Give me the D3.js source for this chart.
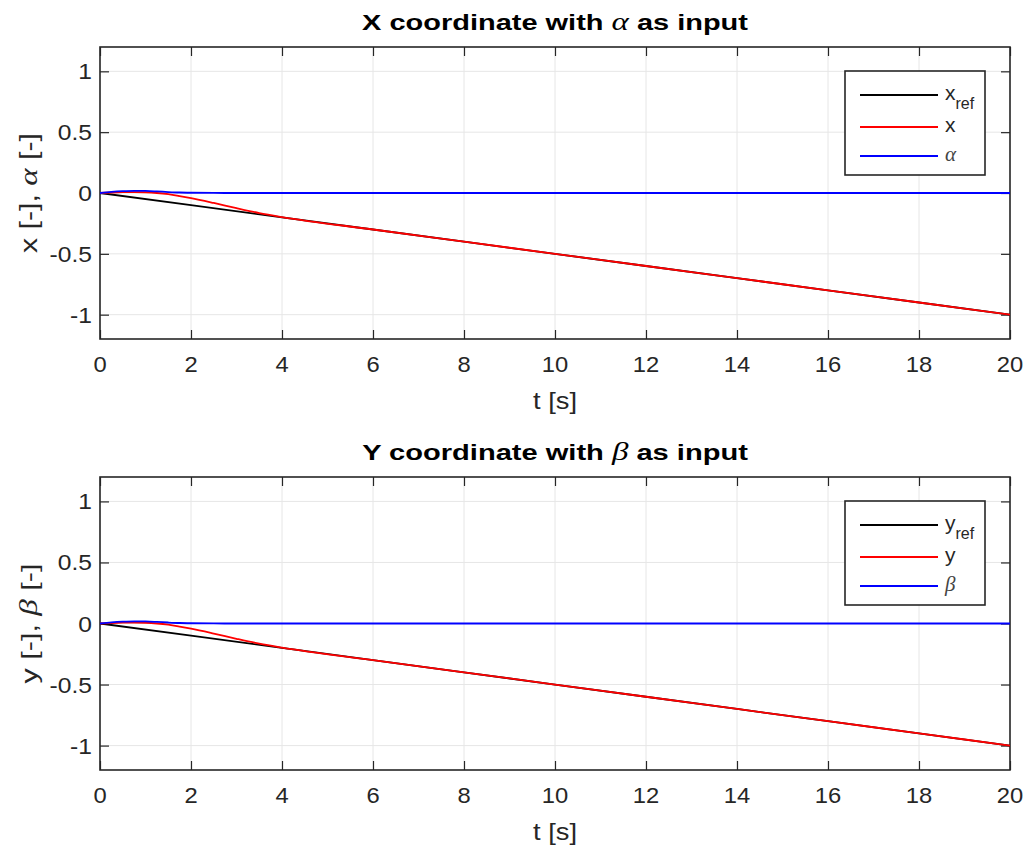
<!DOCTYPE html>
<html><head><meta charset="utf-8">
<script src="https://cdn.jsdelivr.net/npm/d3@7"></script>
<style>body{margin:0;background:#fff}svg{display:block}</style>
</head><body>
<script>
// ---- data ----
const tRef = [0, 2, 4, 6, 8, 10, 12, 14, 16, 18, 20];
const xRefVals = [0, -0.1, -0.2, -0.3, -0.4, -0.5, -0.6, -0.7, -0.8, -0.9, -1.0];
const yRefVals = [0, -0.1, -0.2, -0.3, -0.4, -0.5, -0.6, -0.7, -0.8, -0.9, -1.0];
const tState = [0, 0.25, 0.5, 0.75, 1, 1.25, 1.5, 1.75, 2, 2.5, 3, 3.5, 4, 6, 8, 10, 12, 14, 16, 18, 20];
const xVals = [0, 0.004, 0.007, 0.008, 0.006, 0.0, -0.01, -0.025, -0.042, -0.082, -0.125, -0.165, -0.198, -0.3, -0.4, -0.5, -0.6, -0.7, -0.8, -0.9, -1.0];
const yVals = [0, 0.004, 0.007, 0.008, 0.006, 0.0, -0.01, -0.025, -0.042, -0.082, -0.125, -0.165, -0.198, -0.3, -0.4, -0.5, -0.6, -0.7, -0.8, -0.9, -1.0];
const tInput = [0, 0.25, 0.5, 0.75, 1, 1.25, 1.5, 1.75, 2, 2.5, 3, 4, 20];
const alphaVals = [0, 0.009, 0.015, 0.018, 0.017, 0.013, 0.008, 0.004, 0.002, 0.0005, 0, 0, 0];
const betaVals = [0, 0.009, 0.015, 0.018, 0.017, 0.013, 0.008, 0.004, 0.002, 0.0005, 0, 0, 0];
const xTicks = [0, 2, 4, 6, 8, 10, 12, 14, 16, 18, 20];
const xTickLabels = ["0", "2", "4", "6", "8", "10", "12", "14", "16", "18", "20"];
const yTicks = [-1, -0.5, 0, 0.5, 1];
const yTickLabels = ["-1", "-0.5", "0", "0.5", "1"];

const W = 1028, H = 845;
const svg = d3.select("body").append("svg").attr("width", W).attr("height", H);
const font = "'Liberation Sans', Arial, Helvetica, sans-serif";
const serif = "'Liberation Serif', 'DejaVu Serif', serif";
const axisColor = "#262626";

function stxt(parent, x, y, anchor, size, sx, rot) {
  return parent.append("text")
    .attr("transform", `translate(${x},${y})${rot ? ` rotate(${rot})` : ""} scale(${sx},1)`)
    .attr("text-anchor", anchor).attr("font-family", font).attr("font-size", size).attr("fill", axisColor);
}
function fitLen(t, target, rot, x, y) {
  const len = t.node().getComputedTextLength();
  t.attr("transform", `translate(${x},${y})${rot ? ` rotate(${rot})` : ""} scale(${target / len},1)`);
}

const panels = [
  {top: 47, bottom: 339, title: ["X coordinate with ", "α", " as input"],
   ylab: ["x [-], ", "α", " [-]"], ref: xRefVals, st: xVals, inp: alphaVals,
   leg: [["x", "ref", false], ["x", null, false], ["α", null, true]]},
  {top: 477, bottom: 770, title: ["Y coordinate with ", "β", " as input"],
   ylab: ["y [-], ", "β", " [-]"], ref: yRefVals, st: yVals, inp: betaVals,
   leg: [["y", "ref", false], ["y", null, false], ["β", null, true]]}
];
const left = 100, right = 1010;

panels.forEach((p, pi) => {
  const x = d3.scaleLinear().domain([0, 20]).range([left, right]);
  const y = d3.scaleLinear().domain([-1.2, 1.2]).range([p.bottom, p.top]);
  const g = svg.append("g");
  // grid
  g.append("g").selectAll("line").data(xTicks).join("line")
    .attr("x1", d => x(d)).attr("x2", d => x(d)).attr("y1", p.top).attr("y2", p.bottom)
    .attr("stroke", "#e6e6e6").attr("stroke-width", 1);
  g.append("g").selectAll("line").data(yTicks).join("line")
    .attr("y1", d => y(d)).attr("y2", d => y(d)).attr("x1", left).attr("x2", right)
    .attr("stroke", "#e6e6e6").attr("stroke-width", 1);
  // axes (ticks inward on all four sides)
  const axes = [
    g.append("g").attr("transform", `translate(0,${p.bottom})`).call(d3.axisBottom(x).tickValues(xTicks).tickSize(-9).tickFormat("").tickSizeOuter(0)),
    g.append("g").attr("transform", `translate(0,${p.top})`).call(d3.axisTop(x).tickValues(xTicks).tickSize(-9).tickFormat("").tickSizeOuter(0)),
    g.append("g").attr("transform", `translate(${left},0)`).call(d3.axisLeft(y).tickValues(yTicks).tickSize(-9).tickFormat("").tickSizeOuter(0)),
    g.append("g").attr("transform", `translate(${right},0)`).call(d3.axisRight(y).tickValues(yTicks).tickSize(-9).tickFormat("").tickSizeOuter(0))
  ];
  axes.forEach(a => {
    a.select(".domain").remove();
    a.selectAll(".tick line").attr("stroke", axisColor).attr("stroke-width", 1.2);
  });
  // tick labels
  xTicks.forEach((d, i) => {
    stxt(svg, x(d), p.bottom + 33, "middle", 22, 1.08).text(xTickLabels[i]);
  });
  yTicks.forEach((d, i) => {
    stxt(svg, left - 8, y(d) + 8, "end", 22, 1.12).text(yTickLabels[i]);
  });
  g.append("rect").attr("x", left).attr("y", p.top).attr("width", right - left).attr("height", p.bottom - p.top)
    .attr("fill", "none").attr("stroke", axisColor).attr("stroke-width", 1.6);

  // lines
  const clip = "clip" + pi;
  svg.append("clipPath").attr("id", clip).append("rect")
    .attr("x", left).attr("y", p.top).attr("width", right - left).attr("height", p.bottom - p.top);
  const line = d3.line().x(d => x(d[0])).y(d => y(d[1]));
  const sline = d3.line().curve(d3.curveMonotoneX).x(d => x(d[0])).y(d => y(d[1]));
  const lg = g.append("g").attr("clip-path", `url(#${clip})`);
  lg.append("path").datum(d3.zip(tRef, p.ref)).attr("d", line).attr("fill", "none").attr("stroke", "#000").attr("stroke-width", 1.8);
  lg.append("path").datum(d3.zip(tState, p.st)).attr("d", sline).attr("fill", "none").attr("stroke", "#ff0000").attr("stroke-width", 1.8);
  lg.append("path").datum(d3.zip(tInput, p.inp)).attr("d", sline).attr("fill", "none").attr("stroke", "#0000ff").attr("stroke-width", 1.8);

  // title
  const cx = (left + right) / 2;
  const tt = stxt(svg, cx, p.top - 17.5, "middle", 22, 1).attr("font-weight", "bold").attr("fill", "#000");
  tt.append("tspan").text(p.title[0]);
  tt.append("tspan").text(p.title[1]).attr("font-family", serif).attr("font-style", "italic").attr("font-weight", "normal").attr("font-size", 25);
  tt.append("tspan").text(p.title[2]);
  fitLen(tt, 386, 0, cx, p.top - 17.5);

  // x label
  const xl = stxt(svg, cx, p.bottom + 70, "middle", 23, 1).text("t [s]");
  fitLen(xl, 44, 0, cx, p.bottom + 70);
  // y label
  const yl = stxt(svg, 37, y(0), "middle", 23, 1, -90);
  yl.append("tspan").text(p.ylab[0]);
  yl.append("tspan").text(p.ylab[1]).attr("font-family", serif).attr("font-style", "italic").attr("font-size", 25);
  yl.append("tspan").text(p.ylab[2]);
  fitLen(yl, 120, -90, 37, y(0));

  // legend
  const lx = 845, ly = p.top + 24, lw = 140, lh = 104;
  g.append("rect").attr("x", lx).attr("y", ly).attr("width", lw).attr("height", lh)
    .attr("fill", "#fff").attr("stroke", axisColor).attr("stroke-width", 1.6);
  const cols = ["#000", "#ff0000", "#0000ff"];
  const rowsY = [ly + 24, ly + 56, ly + 85];
  p.leg.forEach((e, i) => {
    g.append("line").attr("x1", lx + 15).attr("x2", lx + 93).attr("y1", rowsY[i]).attr("y2", rowsY[i])
      .attr("stroke", cols[i]).attr("stroke-width", 1.8);
    const t = stxt(g, lx + 100, rowsY[i] + 5, "start", 21, 1);
    const m = t.append("tspan").text(e[0]);
    if (e[2]) m.attr("font-family", serif).attr("font-style", "italic").attr("font-size", 21).attr("fill", "#444");
    if (e[1]) t.append("tspan").text(e[1]).attr("font-size", 16).attr("dy", 9);
  });
});
</script>
</body></html>
